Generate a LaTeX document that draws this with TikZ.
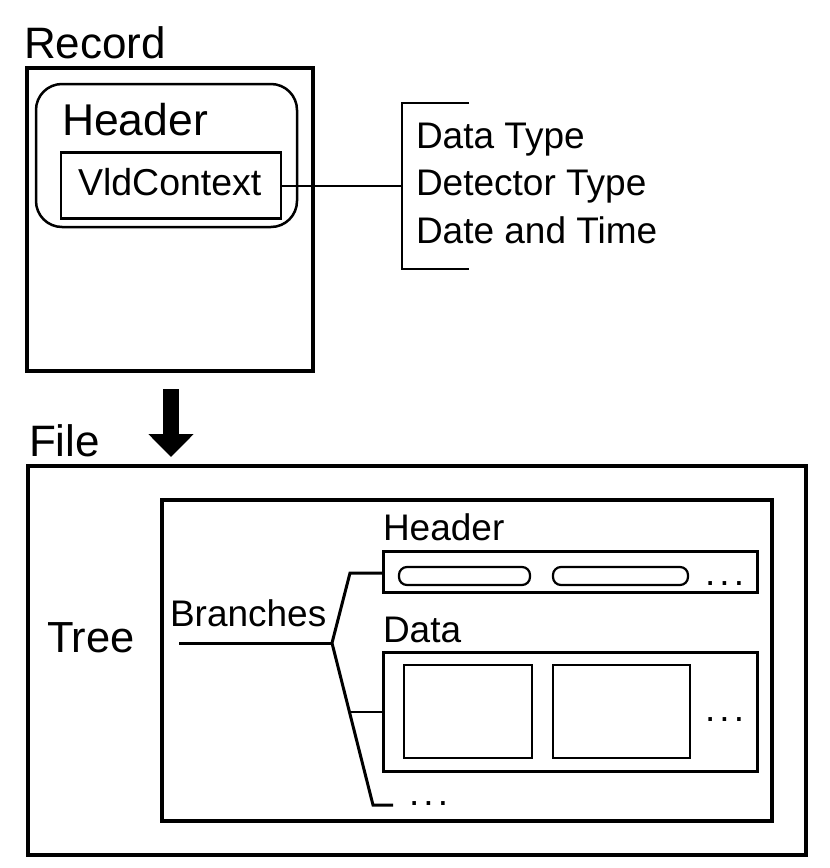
\documentclass[tikz,border=0pt]{standalone}
\usepackage{fontspec}
\setmainfont{Liberation Sans}
\usetikzlibrary{arrows.meta}
\newcommand{\mydots}{.\kern4.2pt.\kern4.2pt.}
\tikzset{
  lbl/.style={inner sep=0pt, outer sep=0pt, anchor=base west, font=\fontsize{37}{44}\selectfont},
  biglbl/.style={lbl, font=\fontsize{44}{52}\selectfont},
  box/.style={draw, inner sep=0pt, outer sep=0pt, line width=2.5pt},
  thickbox/.style={box, line width=4.5pt},
  pill/.style={box, line width=2.2pt, rounded corners=8pt},
  conn/.style={line width=2pt},
  branch/.style={line width=3pt},
}
\begin{document}
\begin{tikzpicture}[x=1pt,y=-1pt]
\useasboundingbox (0,0) rectangle (830,868);
% ---------- Record ----------
\node[biglbl] (reclbl) at (24,58) {Record};
\node[thickbox, minimum width=286pt, minimum height=303pt] (record) at (170,219.5) {};
\node[box, rounded corners=26pt, minimum width=261pt, minimum height=143pt] (rhdr) at (166.5,155.5) {};
\node[lbl, font=\fontsize{44.5}{52}\selectfont] (rhdrlbl) at (62,135) {Header};
\node[box, minimum width=220pt, minimum height=66pt] (vld) at (171,185.5) {};
\node[lbl, font=\fontsize{37.5}{44}\selectfont] (vldlbl) at (78,195) {VldContext};
% bracket
\coordinate (bmid) at (402,186);
\coordinate (btopr) at (469,103);
\coordinate (bbotr) at (469,269);
\coordinate (btop) at (402,103);
\coordinate (bbot) at (402,269);
\draw[conn] (vld.east |- bmid) -- (bmid);
\draw[line width=2.5pt] (btopr) -- (btop) -- (bbot) -- (bbotr);
\node[lbl] (t1) at (416,148) {Data Type};
\node[lbl] (t2) at (416,195.5) {Detector Type};
\node[lbl] (t3) at (416,243) {Date and Time};
% ---------- arrow ----------
\coordinate (arrS) at (171,389);
\coordinate (arrE) at (171,457);
\draw[line width=16pt, -{Triangle[width=44pt,length=23pt]}] (arrS) -- (arrE);
% ---------- File ----------
\node[biglbl] (filelbl) at (29,456) {File};
\node[thickbox, minimum width=778pt, minimum height=389pt] (file) at (417,660.5) {};
\node[biglbl, font=\fontsize{43.5}{52}\selectfont] (treelbl) at (47,652) {Tree};
\node[box, line width=4pt, minimum width=610pt, minimum height=321pt] (tree) at (467,660.5) {};
% header
\node[lbl] (hlbl) at (383,540) {Header};
\node[box, line width=3pt, minimum width=374pt, minimum height=41pt] (hbox) at (570,571.5) {};
\node[pill, minimum width=131pt, minimum height=18pt] (p1) at (464.5,576) {};
\node[pill, minimum width=135pt, minimum height=18pt] (p2) at (620.5,576) {};
\node[lbl] (hdots) at (705,585) {\mydots};
% data
\node[lbl] (dlbl) at (383,642) {Data};
\node[box, line width=3pt, minimum width=374pt, minimum height=119pt] (dbox) at (570,711.5) {};
\node[box, minimum width=128pt, minimum height=93pt] (d1) at (468,711.5) {};
\node[box, minimum width=137pt, minimum height=93pt] (d2) at (621.5,711.5) {};
\node[lbl] (ddots) at (705,721) {\mydots};
% branches
\node[lbl] (brlbl) at (170,626) {Branches};
\coordinate (bstart) at (179,643);
\coordinate (j) at (332,643);
\coordinate (jt) at (350,573);
\coordinate (jb) at (373,805);
\coordinate (jd) at (349.5,712);
\coordinate (jend) at (393,805);
\draw[branch] (bstart) -- (j);
\draw[branch] (j) -- (jt) -- (jt -| hbox.west);
\draw[branch] (j) -- (jb) -- (jend);
\draw[conn] (jd) -- (jd -| dbox.west);
\node[lbl] (bdots) at (409,805) {\mydots};
\end{tikzpicture}
\end{document}
